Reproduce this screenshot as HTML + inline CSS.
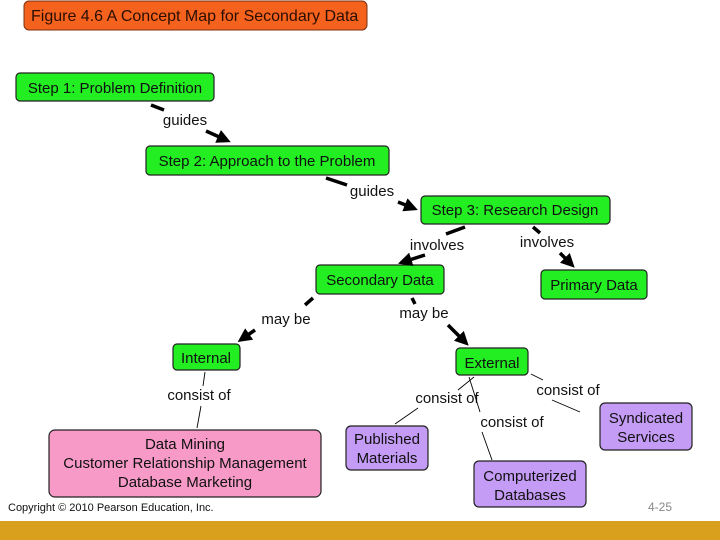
<!DOCTYPE html>
<html><head><style>
body{margin:0;background:#fff;}
svg{display:block;font-family:"Liberation Sans",sans-serif;}
</style></head><body>
<svg width="720" height="540" viewBox="0 0 720 540">
<defs><marker id="a" markerWidth="4" markerHeight="4" refX="2.5" refY="2" orient="auto" markerUnits="strokeWidth"><path d="M0,0 L4,2 L0,4 z" fill="#000"/></marker></defs>
<rect x="24" y="1" width="343" height="29" rx="5" fill="#f4621e" stroke="#7a3010"/>
<text x="31" y="21" font-size="16" fill="#2a0e00">Figure 4.6  A Concept Map for Secondary Data</text>
<g stroke="#222" stroke-width="1.2">
<rect x="16" y="73" width="198" height="28" rx="4" fill="#22ee22"/>
<rect x="146" y="146" width="243" height="29" rx="4" fill="#22ee22"/>
<rect x="421" y="196" width="189" height="28" rx="4" fill="#22ee22"/>
<rect x="316" y="265" width="128" height="29" rx="4" fill="#22ee22"/>
<rect x="541" y="270" width="106" height="29" rx="4" fill="#22ee22"/>
<rect x="173" y="344" width="67" height="26" rx="4" fill="#22ee22"/>
<rect x="456" y="348" width="72" height="27" rx="4" fill="#22ee22"/>
<rect x="49" y="430" width="272" height="67" rx="6" fill="#f79ac7"/>
<rect x="346" y="426" width="82" height="44" rx="5" fill="#c49bf5"/>
<rect x="474" y="461" width="112" height="46" rx="5" fill="#c49bf5"/>
<rect x="600" y="403" width="92" height="47" rx="5" fill="#c49bf5"/>
</g>
<g font-size="15" fill="#111" text-anchor="middle">
<text x="115" y="93">Step 1: Problem Definition</text>
<text x="267" y="166">Step 2: Approach to the Problem</text>
<text x="515" y="215">Step 3: Research Design</text>
<text x="380" y="285">Secondary Data</text>
<text x="594" y="290">Primary Data</text>
<text x="206" y="363">Internal</text>
<text x="492" y="368">External</text>
<text x="185" y="449">Data Mining</text>
<text x="185" y="468">Customer Relationship Management</text>
<text x="185" y="487">Database Marketing</text>
<text x="387" y="444">Published</text><text x="387" y="463">Materials</text>
<text x="530" y="481">Computerized</text><text x="530" y="500">Databases</text>
<text x="646" y="423">Syndicated</text><text x="646" y="442">Services</text>
<text x="185" y="125">guides</text>
<text x="372" y="196">guides</text>
<text x="437" y="250">involves</text>
<text x="547" y="247">involves</text>
<text x="286" y="324">may be</text>
<text x="424" y="318">may be</text>
<text x="199" y="400">consist of</text>
<text x="447" y="403">consist of</text>
<text x="512" y="427">consist of</text>
<text x="568" y="395">consist of</text>
</g>
<g stroke="#000" stroke-width="3.5" fill="none">
<line x1="151" y1="105" x2="164" y2="110"/>
<line x1="206" y1="131" x2="226" y2="140" marker-end="url(#a)"/>
<line x1="326" y1="178" x2="347" y2="185"/>
<line x1="398" y1="202" x2="413" y2="208" marker-end="url(#a)"/>
<line x1="465" y1="227" x2="446" y2="234"/>
<line x1="425" y1="255" x2="403" y2="262" marker-end="url(#a)"/>
<line x1="533" y1="227" x2="540" y2="233"/>
<line x1="560" y1="253" x2="571" y2="264" marker-end="url(#a)"/>
<line x1="313" y1="298" x2="305" y2="305"/>
<line x1="255" y1="330" x2="242" y2="339" marker-end="url(#a)"/>
<line x1="412" y1="298" x2="415" y2="304"/>
<line x1="448" y1="325" x2="465" y2="342" marker-end="url(#a)"/>
</g>
<g stroke="#000" stroke-width="0.9">
<line x1="205" y1="372" x2="203" y2="386"/><line x1="201" y1="406" x2="197" y2="428"/>
<line x1="474" y1="377" x2="458" y2="390"/><line x1="418" y1="408" x2="395" y2="424"/>
<line x1="469" y1="377" x2="480" y2="412"/><line x1="482" y1="432" x2="492" y2="460"/>
<line x1="500" y1="377" x2="500" y2="377"/>
<line x1="531" y1="374" x2="543" y2="380"/><line x1="552" y1="400" x2="580" y2="412"/>
</g>
<text x="8" y="511" font-size="11" fill="#111">Copyright © 2010 Pearson Education, Inc.</text>
<text x="648" y="511" font-size="12" fill="#888">4-25</text>
<rect x="0" y="521" width="720" height="19" fill="#d9a01e"/>
</svg>
</body></html>
